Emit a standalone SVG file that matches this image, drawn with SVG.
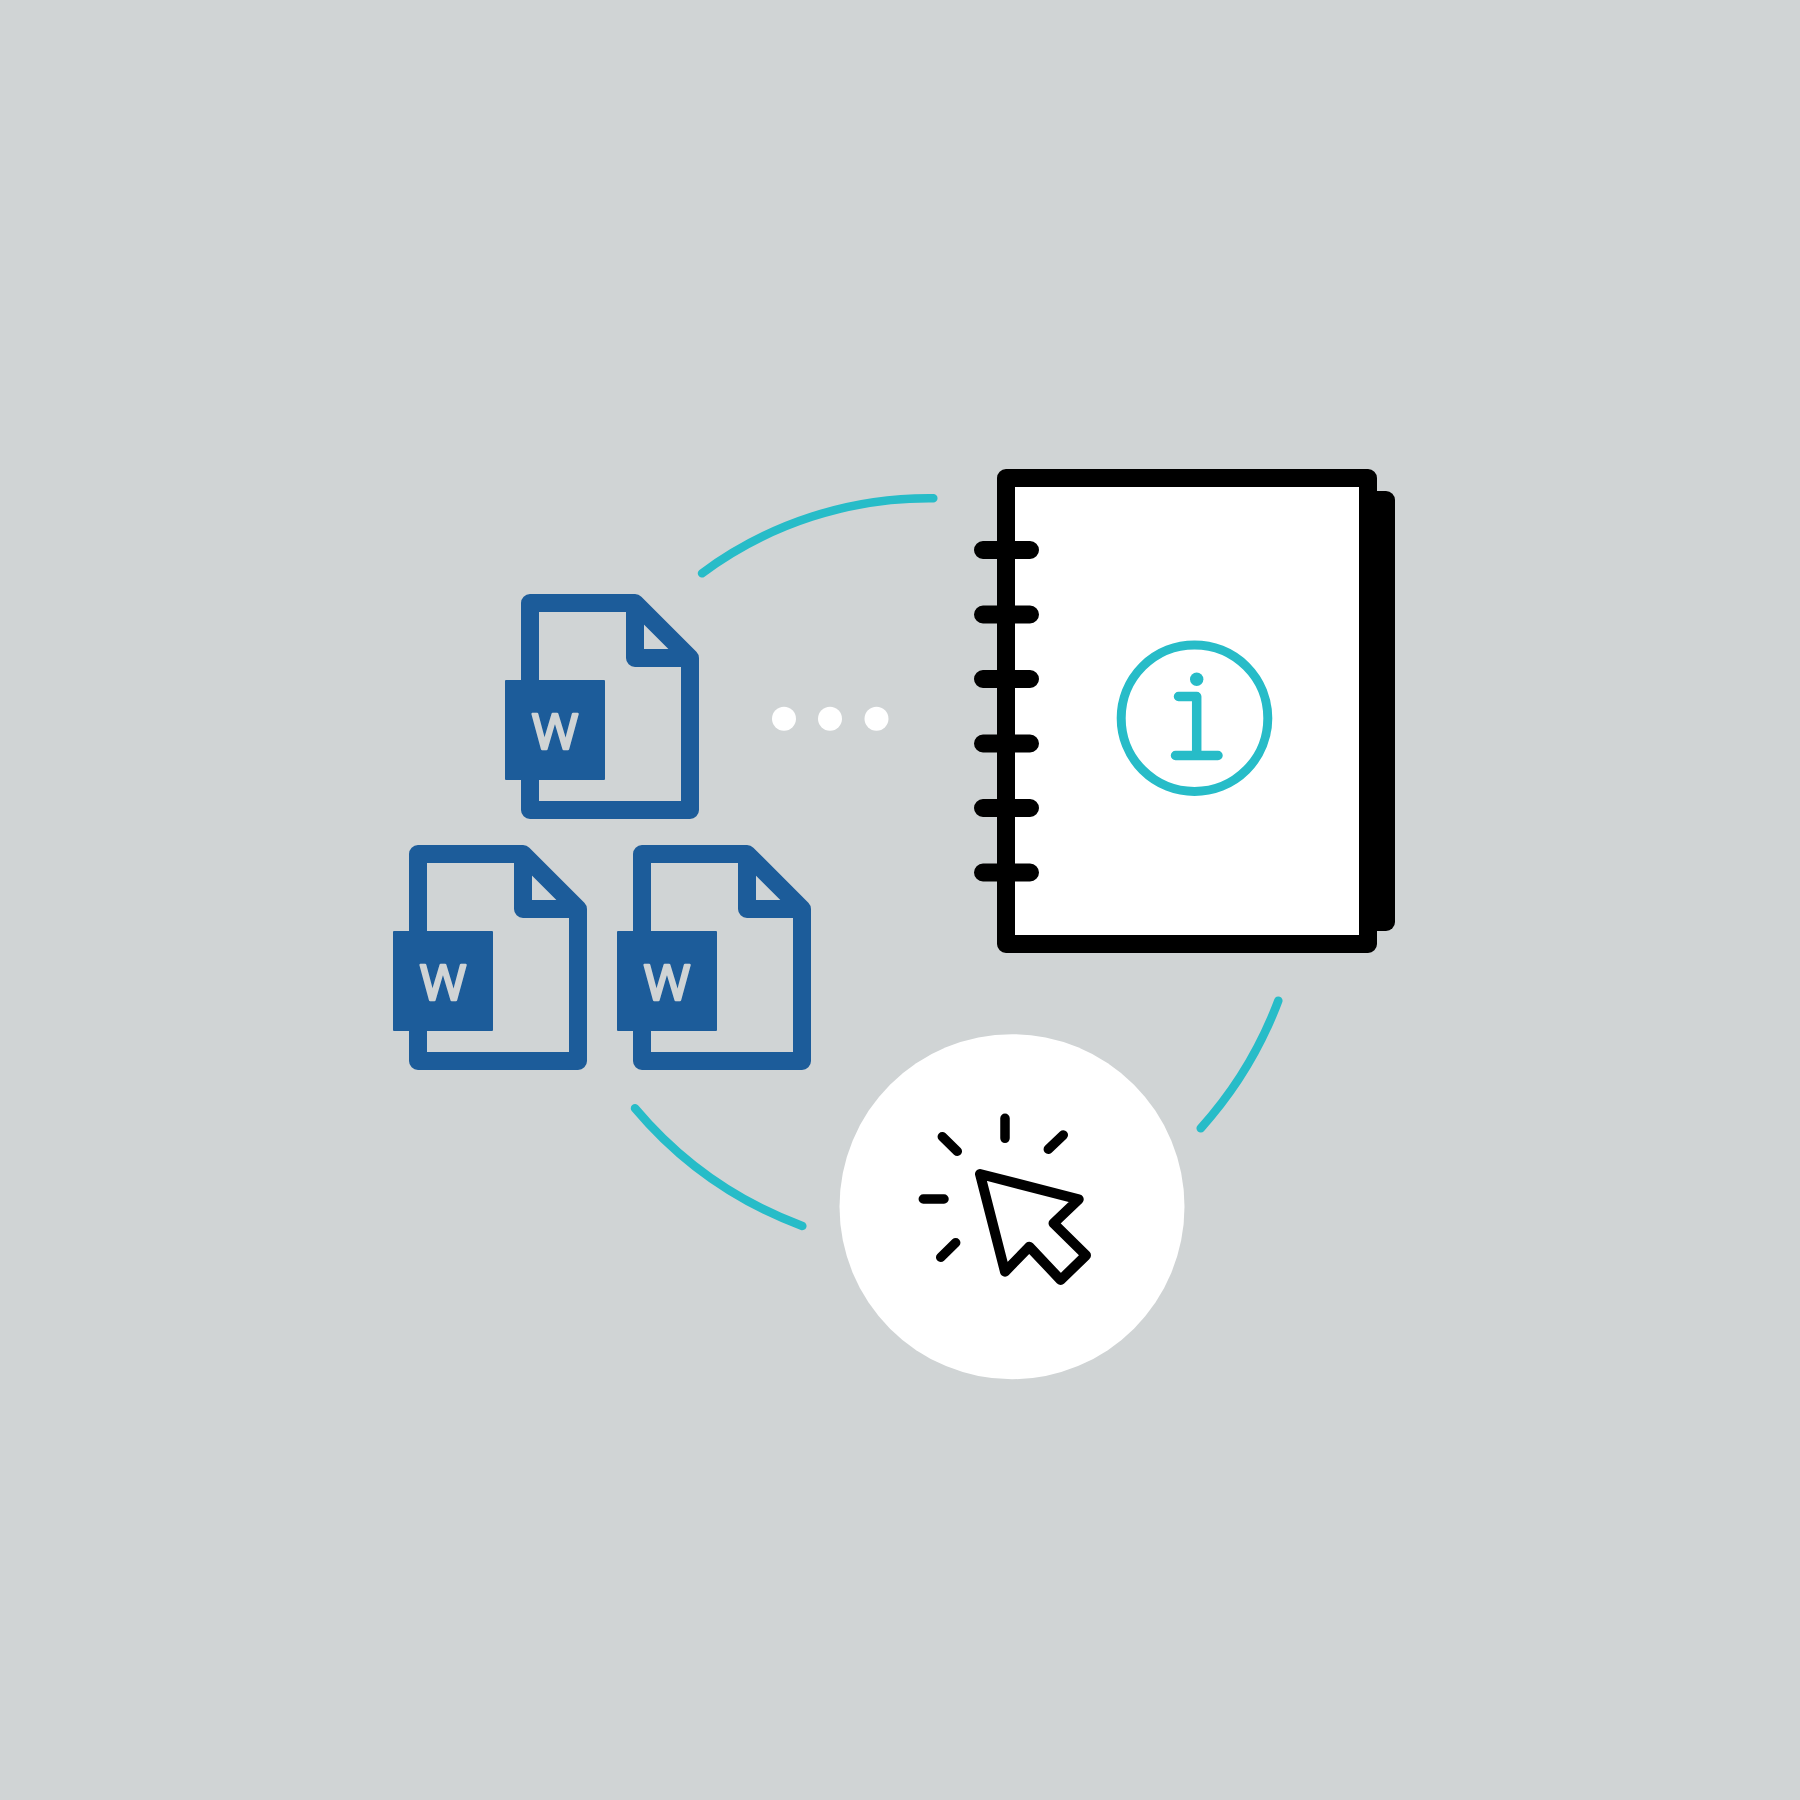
<svg xmlns="http://www.w3.org/2000/svg" xmlns:xlink="http://www.w3.org/1999/xlink" width="1800" height="1800" viewBox="0 0 1800 1800">
<style>
.arc{fill:none;stroke:#27bcc8;stroke-width:8.5;stroke-linecap:round}
.doc{fill:none;stroke:#1c5c9a;stroke-width:18;stroke-linejoin:round}
.badge{fill:#1c5c9a;stroke:#1c5c9a;stroke-width:2;stroke-linejoin:round}
.w{font-family:"Open Sans","Noto Sans",sans-serif;font-size:50px;fill:#d0d4d5;text-anchor:middle;stroke:#d0d4d5;stroke-width:2.6;stroke-linejoin:round}
.dot{fill:#fff}
.tab{stroke:#000;stroke-width:18;stroke-linecap:round}
.tick{stroke:#000;stroke-width:9.5;stroke-linecap:round;fill:none}
.teal{stroke:#27bcc8;stroke-width:9.5;stroke-linecap:round;stroke-linejoin:round;fill:none}
</style>
<defs>
<g id="wdoc">
<path class="doc" d="M530 603H635L690 658V810H530Z"/>
<path class="doc" d="M635 603V658H690"/>
<rect class="badge" x="506" y="681" width="98" height="98"/>
</g>
</defs>
<rect id="background" width="1800" height="1800" fill="#d0d4d5"/>
<g id="connectors">
<path class="arc" d="M702 573.3A380 380 0 0 1 933.3 498.3"/>
<path class="arc" d="M635 1108.3A400 400 0 0 0 802.3 1226"/>
<path class="arc" d="M1278.3 1000.7A400 400 0 0 1 1200.7 1128.3"/>
</g>
<g id="doc-top"><use xlink:href="#wdoc" href="#wdoc"/><text class="w" x="555" y="749">W</text></g>
<g id="doc-left"><use xlink:href="#wdoc" href="#wdoc" x="-112" y="251"/><text class="w" x="443" y="1000">W</text></g>
<g id="doc-right"><use xlink:href="#wdoc" href="#wdoc" x="112" y="251"/><text class="w" x="667" y="1000">W</text></g>
<g id="dots">
<circle class="dot" cx="784" cy="718.7" r="12"/>
<circle class="dot" cx="830" cy="718.7" r="12"/>
<circle class="dot" cx="876.5" cy="718.7" r="12"/>
</g>
<g id="notebook">
<rect x="1340" y="491" width="55" height="440" rx="9" fill="#000"/>
<rect x="1006" y="478" width="362" height="466" fill="#fff" stroke="#000" stroke-width="18" stroke-linejoin="round"/>
<path class="tab" d="M983 550H1030M983 614.5H1030M983 679H1030M983 743.5H1030M983 808H1030M983 872.5H1030"/>
<circle cx="1194.5" cy="718.2" r="73.3" fill="none" stroke="#27bcc8" stroke-width="9"/>
<circle cx="1196.7" cy="679.3" r="6.7" fill="#27bcc8"/>
<path class="teal" d="M1178.5 696.5H1196.7V755.5M1175.5 755.5H1218"/>
</g>
<g id="cursor">
<circle cx="1012" cy="1206.7" r="172.5" fill="#fff"/>
<path class="tick" d="M1005 1118.3V1138.3M1063.3 1135L1048.3 1149.3M942.3 1136.7L957.3 1151.3M923.3 1199H944M955.7 1242.7L940.7 1257.3"/>
<path d="M980 1174L1078.7 1199.3L1053.5 1223.3L1086 1255.3L1060.7 1280L1029.3 1246.7L1005 1271.7Z" fill="#fff" stroke="#000" stroke-width="10" stroke-linejoin="round"/>
</g>
</svg>
